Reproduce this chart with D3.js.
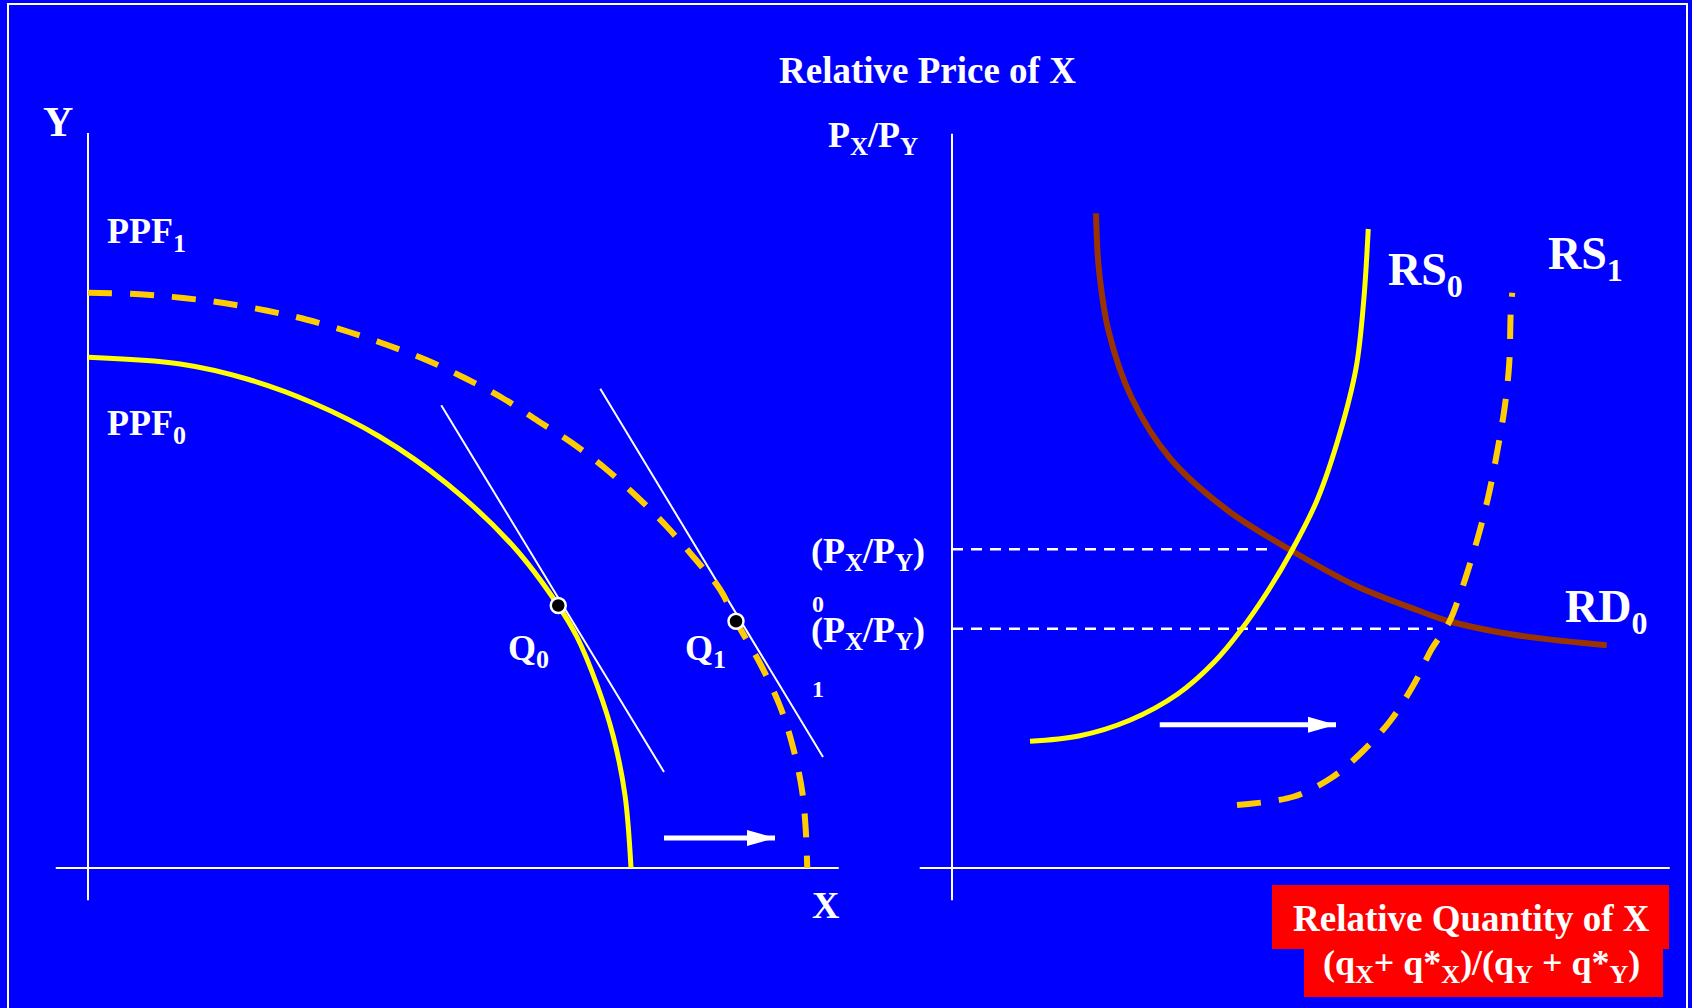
<!DOCTYPE html>
<html>
<head>
<meta charset="utf-8">
<script src="https://cdn.jsdelivr.net/npm/d3@7"></script>
<style>
  html, body { margin: 0; padding: 0; background: #0000FF; }
  svg { display: block; }
  text { font-family: "Liberation Serif", "Times New Roman", serif; font-weight: bold; fill: #FFFFFF; }
</style>
</head>
<body>
<svg id="chart" width="1692" height="1008"></svg>
<script>
// ---------- DATA (axis units: 0..100 on each panel) ----------
const ppf0 = [[0,68.1],[12.3,67.2],[21.2,65.2],[30,62],[38.9,57.5],[47.9,51.2],[56.7,42.9],[62.7,35.0],[65.2,30.8],[67.9,24.3],[70,17.7],[71.6,9.7],[72.4,0]];
const ppf1 = [[0,76.7],[6.9,76.5],[12.7,76],[18.3,75.3],[23.9,74.3],[29.2,73.1],[34.7,71.5],[40,69.7],[45.2,67.7],[50.3,65.3],[55.2,62.7],[60,59.6],[64.5,56.7],[68.7,53.5],[73.2,49.5],[77.2,45.5],[80.7,41.5],[84.3,37.1],[86.4,32.9],[89.6,27.3],[92.3,21.5],[94,16.1],[95.2,10.4],[95.7,5.1],[95.9,0]];
const tangent0 = [[47.1,61.7],[76.8,12.8]];
const tangent1 = [[68.3,63.9],[98,14.8]];
const pointsQ = [{name:"Q", sub:"0", x:62.7, y:35.0}, {name:"Q", sub:"1", x:86.4, y:32.9}];
const arrowLeft = [[76.8,4],[91.6,4]];

const rs0 = [[10.4,16.9],[16.9,17.6],[23.7,19.7],[30.1,23.2],[35,27.5],[38.5,31.7],[42.1,36.9],[45.3,42.3],[48.7,49.1],[51.7,57.9],[53.9,66.8],[54.9,75.7],[55.5,85.2]];
const rs1 = [[38,8.4],[45.5,9.5],[50.7,12.1],[54.9,15.7],[58.5,19.7],[61.7,24.7],[63.9,29.1],[66.3,32.8],[67.6,36.1],[68.8,39.7],[70.4,45.1],[71.7,50.4],[72.8,56.1],[73.7,61.5],[74.3,67.3],[74.5,74.1],[74.7,76.7]];
const rd0 = [[19.2,87.3],[19.6,79.7],[20.9,71.5],[23.9,62.8],[29.1,54.6],[36.6,47.8],[45.3,42.3],[53.9,37.6],[62,34.4],[66.3,32.9],[74.9,31.1],[87.3,29.7]];
const priceLevels = [{y:42.5, xEnd:42.7, sub:"0"}, {y:31.9, xEnd:64.1, sub:"1"}];
const arrowRight = [[27.7,19.1],[51.2,19.1]];

// ---------- SETUP ----------
const W = 1692, H = 1008;
const svg = d3.select("#chart");
const xL = d3.scaleLinear().domain([0,100]).range([88,838]);
const xR = d3.scaleLinear().domain([0,100]).range([952,1702]);
const y  = d3.scaleLinear().domain([0,100]).range([868,118]);

const BLUE = "#0000FF", YELLOW = "#FFFF00", ORANGE = "#FFCC00", BROWN = "#993300", RED = "#FF0000";

svg.append("rect").attr("x",0).attr("y",0).attr("width",W).attr("height",H).attr("fill",BLUE);
// frame
svg.append("rect").attr("x",8).attr("y",4).attr("width",1679).attr("height",1040)
  .attr("fill","none").attr("stroke","#FFFFFF").attr("stroke-width",2);

const defs = svg.append("defs");
defs.append("marker").attr("id","arrowhead").attr("markerUnits","userSpaceOnUse")
  .attr("markerWidth",30).attr("markerHeight",18).attr("refX",28).attr("refY",9)
  .attr("orient","auto")
  .append("path").attr("d","M0,1 L28,9 L0,17 Z").attr("fill","#FFFFFF");

const curve = d3.curveCatmullRom.alpha(0.5);
const lineL = d3.line().x(d => xL(d[0])).y(d => y(d[1])).curve(curve);
const lineR = d3.line().x(d => xR(d[0])).y(d => y(d[1])).curve(curve);

// ---------- LEFT PANEL ----------
svg.append("line").attr("x1",xL(0)).attr("x2",xL(0)).attr("y1",y(-4.3)).attr("y2",y(98))
  .attr("stroke","#FFFFFF").attr("stroke-width",2);
svg.append("line").attr("x1",xL(-4.3)).attr("x2",xL(100.1)).attr("y1",y(0)).attr("y2",y(0))
  .attr("stroke","#FFFFFF").attr("stroke-width",2);

[tangent0, tangent1].forEach(t => {
  svg.append("line").attr("x1",xL(t[0][0])).attr("y1",y(t[0][1])).attr("x2",xL(t[1][0])).attr("y2",y(t[1][1]))
    .attr("stroke","#FFFFFF").attr("stroke-width",2);
});

svg.append("path").attr("d",lineL(ppf0)).attr("fill","none").attr("stroke",YELLOW).attr("stroke-width",5);
svg.append("path").attr("d",lineL(ppf1)).attr("fill","none").attr("stroke",ORANGE).attr("stroke-width",6)
  .attr("stroke-dasharray","24,18");

svg.selectAll("circle.q").data(pointsQ).enter().append("circle").attr("class","q")
  .attr("cx",d => xL(d.x)).attr("cy",d => y(d.y)).attr("r",7.5)
  .attr("fill","#000000").attr("stroke","#FFFFFF").attr("stroke-width",2.5);

svg.append("line").attr("x1",xL(arrowLeft[0][0])).attr("y1",y(arrowLeft[0][1]))
  .attr("x2",xL(arrowLeft[1][0])).attr("y2",y(arrowLeft[1][1]))
  .attr("stroke","#FFFFFF").attr("stroke-width",5).attr("marker-end","url(#arrowhead)");

// ---------- RIGHT PANEL ----------
svg.append("line").attr("x1",xR(0)).attr("x2",xR(0)).attr("y1",y(-4.3)).attr("y2",y(97.9))
  .attr("stroke","#FFFFFF").attr("stroke-width",2);
svg.append("line").attr("x1",xR(-4.3)).attr("x2",xR(95.7)).attr("y1",y(0)).attr("y2",y(0))
  .attr("stroke","#FFFFFF").attr("stroke-width",2);

priceLevels.forEach(p => {
  svg.append("line").attr("x1",xR(0)).attr("x2",xR(p.xEnd)).attr("y1",y(p.y)).attr("y2",y(p.y))
    .attr("stroke","#FFFFFF").attr("stroke-width",2.5).attr("stroke-dasharray","11,8");
});

svg.append("path").attr("d",lineR(rd0)).attr("fill","none").attr("stroke",BROWN).attr("stroke-width",6);
svg.append("path").attr("d",lineR(rs0)).attr("fill","none").attr("stroke",YELLOW).attr("stroke-width",5);
svg.append("path").attr("d",lineR(rs1)).attr("fill","none").attr("stroke",ORANGE).attr("stroke-width",6)
  .attr("stroke-dasharray","24,18");

svg.append("line").attr("x1",xR(arrowRight[0][0])).attr("y1",y(arrowRight[0][1]))
  .attr("x2",xR(arrowRight[1][0])).attr("y2",y(arrowRight[1][1]))
  .attr("stroke","#FFFFFF").attr("stroke-width",5).attr("marker-end","url(#arrowhead)");

// ---------- TEXT ----------
// parts: strings are normal text, {s:"..."} are subscripts
function label(x, yy, parts, size, subSize, subDy) {
  const t = svg.append("text").attr("x",x).attr("y",yy).attr("font-size",size);
  let shifted = false;
  parts.forEach(p => {
    if (typeof p === "string") {
      const ts = t.append("tspan").attr("font-size",size).text(p);
      if (shifted) { ts.attr("dy",-subDy); shifted = false; }
    } else {
      const ts = t.append("tspan").attr("font-size",subSize).text(p.s);
      if (!shifted) { ts.attr("dy",subDy); shifted = true; }
    }
  });
  return t;
}

svg.append("text").attr("x",779).attr("y",83).attr("font-size",37).text("Relative Price of X");
label(43, 136, ["Y"], 42);
label(107, 243, ["PPF",{s:"1"}], 36, 26, 9);
label(107, 435, ["PPF",{s:"0"}], 36, 26, 9);
pointsQ.forEach((d,i) => {
  label(i === 0 ? 508 : 685, 660, [d.name,{s:d.sub}], 36, 26, 8);
});
label(812, 918, ["X"], 38);

label(828, 147, ["P",{s:"X"},"/P",{s:"Y"}], 36, 25, 8);
label(811, 563, ["(P",{s:"X"},"/P",{s:"Y"},")"], 36, 25, 8);
label(812, 612, [priceLevels[0].sub], 24);
label(811, 642, ["(P",{s:"X"},"/P",{s:"Y"},")"], 36, 25, 8);
label(812, 697, [priceLevels[1].sub], 24);

label(1388, 285, ["RS",{s:"0"}], 46, 32, 12);
label(1548, 269, ["RS",{s:"1"}], 46, 32, 12);
label(1565, 622, ["RD",{s:"0"}], 46, 32, 12);

// red title boxes
svg.append("rect").attr("x",1272).attr("y",885).attr("width",397).attr("height",64).attr("fill",RED);
svg.append("rect").attr("x",1304).attr("y",949).attr("width",359).attr("height",48).attr("fill",RED);
svg.append("text").attr("x",1293).attr("y",931).attr("font-size",37).text("Relative Quantity of X");
label(1323, 975, ["(q",{s:"X"},"+ q*",{s:"X"},")/(q",{s:"Y"}," + q*",{s:"Y"},")"], 36, 26, 8);
</script>
</body>
</html>
